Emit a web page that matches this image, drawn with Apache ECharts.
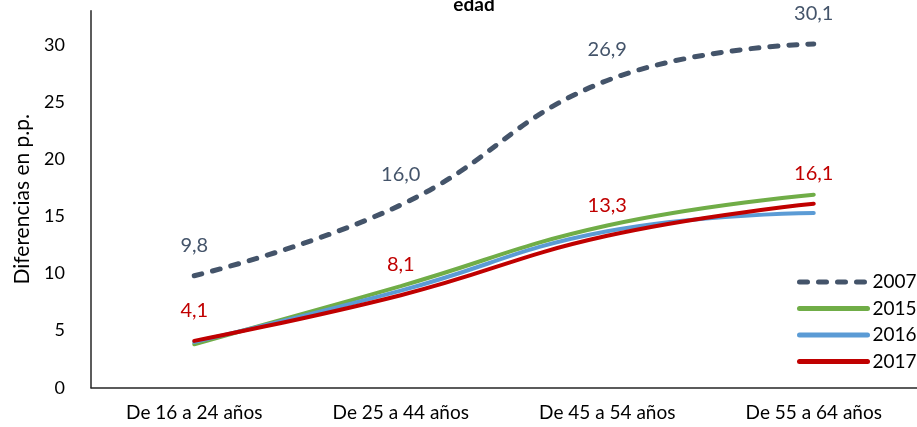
<!DOCTYPE html>
<html>
<head>
<meta charset="utf-8">
<script src="https://cdn.jsdelivr.net/npm/echarts@6/dist/echarts.min.js"></script>
<style>
  html, body { margin: 0; padding: 0; background: #fff; }
  #chart { width: 917px; height: 427px; }
</style>
</head>
<body>
<div id="chart"></div>
<script>
// Age groups on the x axis
const categories = ['De 16 a 24 años', 'De 25 a 44 años', 'De 45 a 54 años', 'De 55 a 64 años'];
// Differences in percentage points by year
const years = ['2007', '2015', '2016', '2017'];
const values2007 = [9.8, 16.0, 26.9, 30.1];
const values2015 = [3.8, 8.9, 14.2, 16.9];
const values2016 = [4.0, 8.5, 13.7, 15.3];
const values2017 = [4.1, 8.1, 13.3, 16.1];
const yTicks = [0, 5, 10, 15, 20, 25, 30];

const FONT = 'Lato';
const fmt = v => v.toFixed(1).replace('.', ',');

const chart = echarts.init(document.getElementById('chart'), null, { renderer: 'canvas' });

function lineSeries(name, data, color, opts) {
  return Object.assign({
    name: name,
    type: 'line',
    data: data,
    smooth: 0.45,
    symbol: 'circle',
    symbolSize: 1,
    showSymbol: true,
    lineStyle: { color: color, width: 4, cap: 'round' },
    itemStyle: { color: color },
    emphasis: { disabled: true },
    z: 2
  }, opts || {});
}

function valueLabel(color) {
  return {
    show: true,
    position: 'top',
    distance: 20,
    color: color,
    fontFamily: FONT,
    fontSize: 20,
    formatter: p => fmt(p.value)
  };
}

chart.setOption({
  animation: false,
  backgroundColor: '#ffffff',
  textStyle: { fontFamily: FONT },
  title: {
    text: 'edad',
    left: 469,
    textAlign: 'center',
    top: -10,
    textStyle: { fontFamily: FONT, fontSize: 19, fontWeight: 'bold', color: '#000' }
  },
  grid: { left: 91, right: -5, top: 10.8, bottom: 39.3, containLabel: false },
  legend: {
    orient: 'vertical',
    left: 797,
    top: 272,
    padding: 0,
    itemWidth: 68,
    itemHeight: 20,
    itemGap: 6.5,
    data: years,
    itemStyle: { opacity: 0 },
    lineStyle: { width: 5, cap: 'round' },
    textStyle: { fontFamily: FONT, fontSize: 19, lineHeight: 20, color: '#000' }
  },
  xAxis: {
    type: 'category',
    data: categories,
    boundaryGap: true,
    axisLine: { lineStyle: { color: '#262626', width: 1.5 } },
    axisTick: { show: false },
    axisLabel: { color: '#000', fontFamily: FONT, fontSize: 19, margin: 16 }
  },
  yAxis: {
    type: 'value',
    min: 0,
    max: 33,
    interval: 5,
    name: 'Diferencias en p.p.',
    nameLocation: 'middle',
    nameGap: 58,
    nameRotate: 90,
    nameTextStyle: { color: '#000', fontFamily: FONT, fontSize: 21 },
    axisLine: { show: true, lineStyle: { color: '#262626', width: 1.5 } },
    axisTick: { show: false },
    splitLine: { show: false },
    axisLabel: {
      color: '#000',
      fontFamily: FONT,
      fontSize: 18,
      margin: 26,
      formatter: v => (yTicks.indexOf(v) >= 0 ? String(v) : '')
    }
  },
  series: [
    lineSeries('2007', values2007, '#44546A', {
      lineStyle: { color: '#44546A', width: 5, type: [8, 11], cap: 'round' },
      label: valueLabel('#44546A')
    }),
    lineSeries('2015', values2015, '#70AD47'),
    lineSeries('2016', values2016, '#5B9BD5'),
    lineSeries('2017', values2017, '#C00000', { label: valueLabel('#C00000'), z: 3 })
  ]
});
</script>
</body>
</html>
